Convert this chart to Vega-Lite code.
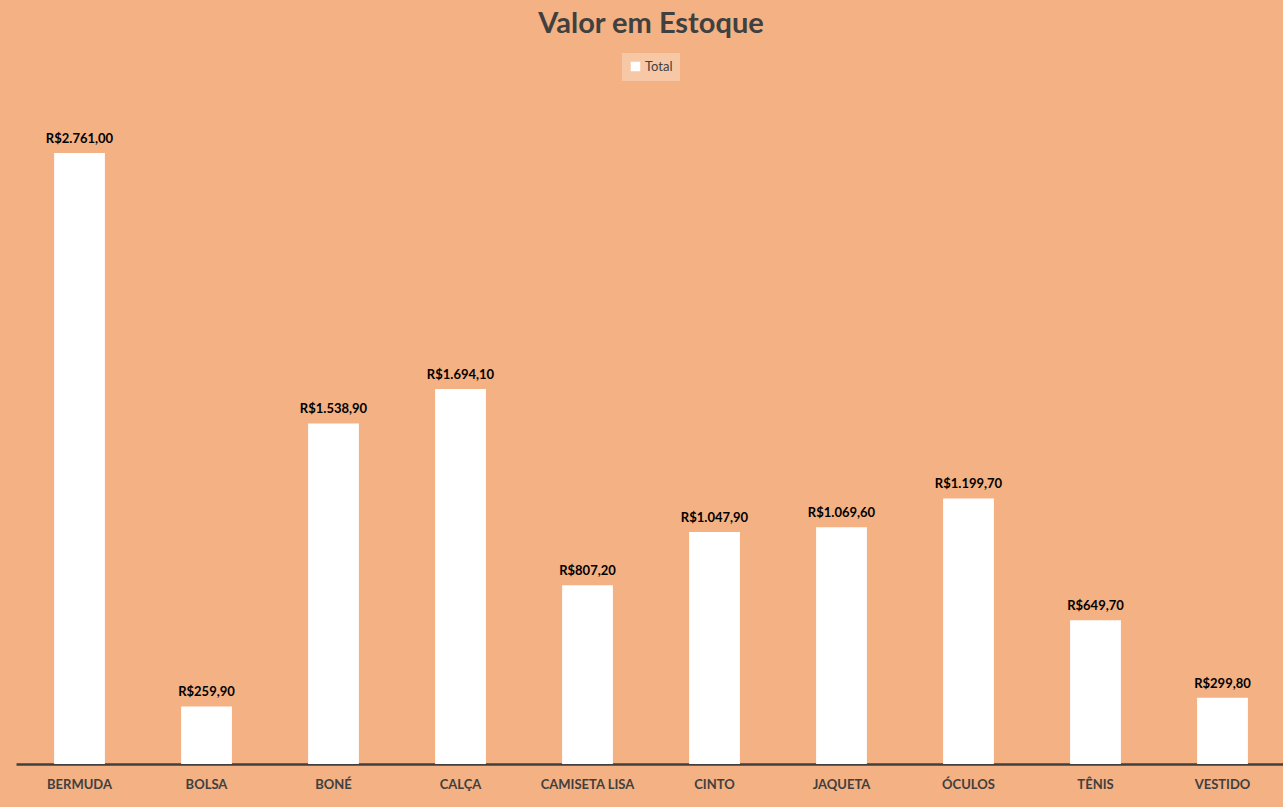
{
  "$schema": "https://vega.github.io/schema/vega-lite/v6.json",
  "autosize": {"type": "none"},
  "width": 1270,
  "height": 664,
  "padding": {"left": 16, "top": 100, "right": 0, "bottom": 43},
  "background": "#F4B183",
  "title": {
    "text": "Valor em Estoque",
    "font": "Lato",
    "fontSize": 29,
    "fontWeight": "bold",
    "color": "#404040",
    "anchor": "middle",
    "offset": 14
  },
  "data": {
    "values": [
      {"Produto": "BERMUDA", "Total": 2761.0},
      {"Produto": "BOLSA", "Total": 259.9},
      {"Produto": "BONÉ", "Total": 1538.9},
      {"Produto": "CALÇA", "Total": 1694.1},
      {"Produto": "CAMISETA LISA", "Total": 807.2},
      {"Produto": "CINTO", "Total": 1047.9},
      {"Produto": "JAQUETA", "Total": 1069.6},
      {"Produto": "ÓCULOS", "Total": 1199.7},
      {"Produto": "TÊNIS", "Total": 649.7},
      {"Produto": "VESTIDO", "Total": 299.8}
    ]
  },
  "encoding": {
    "x": {
      "field": "Produto",
      "type": "nominal",
      "sort": ["BERMUDA", "BOLSA", "BONÉ", "CALÇA", "CAMISETA LISA", "CINTO", "JAQUETA", "ÓCULOS", "TÊNIS", "VESTIDO"],
      "scale": {"paddingInner": 0.6, "paddingOuter": 0.3},
      "axis": {
        "title": null,
        "labelAngle": 0,
        "labelFont": "Lato",
        "labelFontSize": 13,
        "labelFontWeight": "bold",
        "labelColor": "#404040",
        "labelPadding": 14,
        "ticks": false,
        "domainColor": "#404040",
        "domainWidth": 2.5
      }
    },
    "y": {
      "field": "Total",
      "type": "quantitative",
      "scale": {"domain": [0, 3000]},
      "axis": null
    }
  },
  "layer": [
    {
      "mark": {"type": "bar", "color": "#FFFFFF"},
      "encoding": {
        "color": {
          "datum": "Total",
          "type": "nominal",
          "scale": {"range": ["#FFFFFF"]},
          "legend": {
            "title": null,
            "orient": "none",
            "legendX": 606,
            "legendY": -47,
            "fillColor": "#F7C8A6",
            "padding": 7,
            "symbolType": "square",
            "symbolSize": 90,
            "symbolStrokeWidth": 0,
            "labelFont": "Lato",
            "labelFontSize": 13,
            "labelColor": "#404040",
            "labelOffset": 3
          }
        }
      }
    },
    {
      "mark": {
        "type": "text",
        "font": "Lato",
        "fontSize": 13,
        "fontWeight": "bold",
        "color": "#000000",
        "baseline": "alphabetic",
        "dy": -10
      },
      "encoding": {
        "text": {"field": "Total", "type": "quantitative", "format": "$,.2f"}
      }
    }
  ],
  "config": {
    "view": {"stroke": null},
    "locale": {
      "number": {
        "decimal": ",",
        "thousands": ".",
        "grouping": [3],
        "currency": ["R$", ""]
      }
    }
  }
}
